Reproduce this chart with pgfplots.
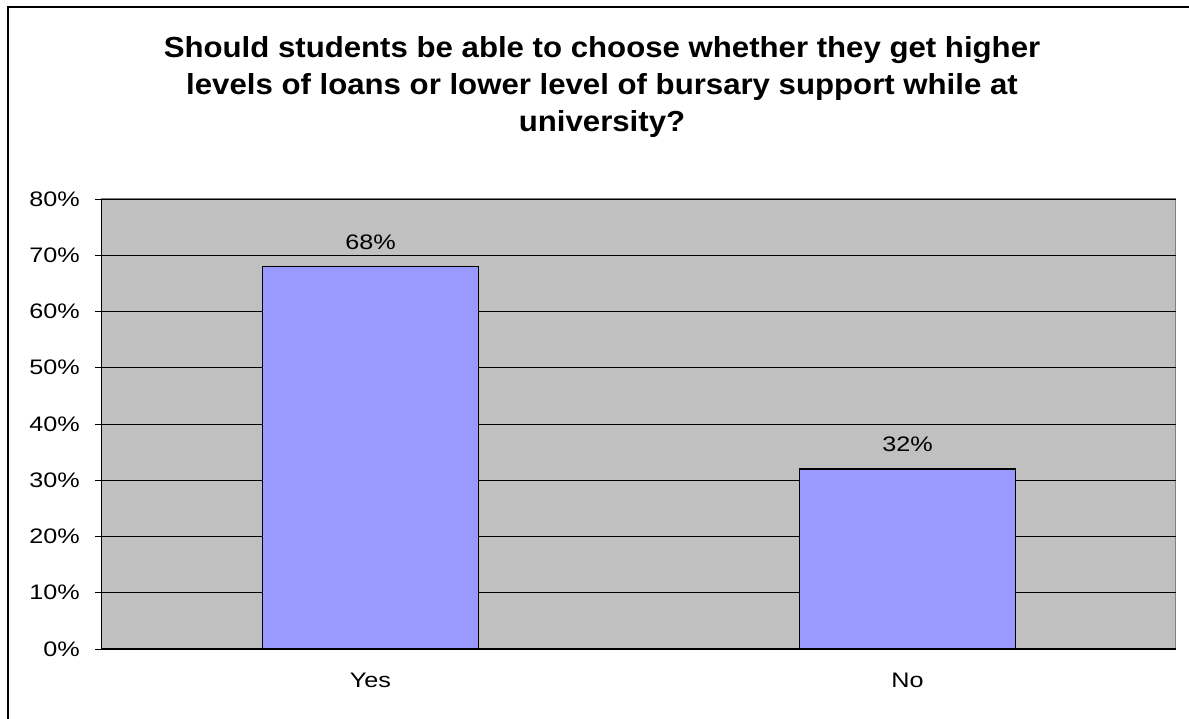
\documentclass[border=0pt]{standalone}
\usepackage{pgfplots}
\pgfplotsset{compat=1.18}
\usepackage{fontspec}
\setmainfont{Liberation Sans}
\newfontfamily\tickfont[FakeStretch=1.2]{Liberation Sans}
\newfontfamily\titlefont[FakeStretch=1.075]{Liberation Sans Bold}
\definecolor{plotgray}{HTML}{C0C0C0}
\definecolor{barblue}{HTML}{9999FF}
\definecolor{edgegray}{HTML}{808080}
\begin{document}
\begin{tikzpicture}
\useasboundingbox (0pt,0pt) rectangle (1189pt,719pt);
\draw[line width=2pt] (8pt,-10pt) -- (8pt,712pt) -- (1200pt,712pt);
\node[align=center, font=\titlefont\fontsize{29}{37}\selectfont] at (602pt,632pt)
  {Should students be able to choose whether they get higher\\levels of loans or lower level of bursary support while at\\university?};
\begin{axis}[
  at={(102pt,70pt)}, anchor=south west,
  scale only axis, width=1074pt, height=450pt,
  xmin=-0.5, xmax=1.5, ymin=0, ymax=80,
  axis x line=bottom, axis y line=left,
  axis line style={black, line width=1pt, -},
  axis background/.style={fill=plotgray, draw=edgegray, line width=1pt},
  ytick={0,10,...,80},
  yticklabel={\pgfmathprintnumber{\tick}\%},
  /pgf/number format/assume math mode=true,
  ymajorgrids, major grid style={black, line width=0.8pt},
  tick align=outside, major tick length=7pt,
  tick style={black, line width=0.8pt},
  xtick={0,1}, xticklabels={Yes,No},
  major x tick style={draw=none},
  extra x ticks={-0.5,0.5,1.5}, extra x tick labels={},
  extra x tick style={grid=none, major x tick style={black, line width=0.8pt}},
  ticklabel style={font=\tickfont\fontsize{21}{25}\selectfont},
  yticklabel style={anchor=east, inner sep=0pt, xshift=-15pt},
  xticklabel style={anchor=north, inner sep=0pt, yshift=-17pt},
  ybar, bar width=0.402, bar shift=0pt,
  nodes near coords={\pgfmathprintnumber{\pgfplotspointmeta}\%},
  every node near coord/.append style={font=\tickfont\fontsize{21}{25}\selectfont, anchor=base, inner sep=0pt, yshift=17pt, black},
]
\addplot[fill=barblue, draw=black, line width=1.5pt] coordinates {(0,68) (1,32)};
\end{axis}
\end{tikzpicture}
\end{document}
